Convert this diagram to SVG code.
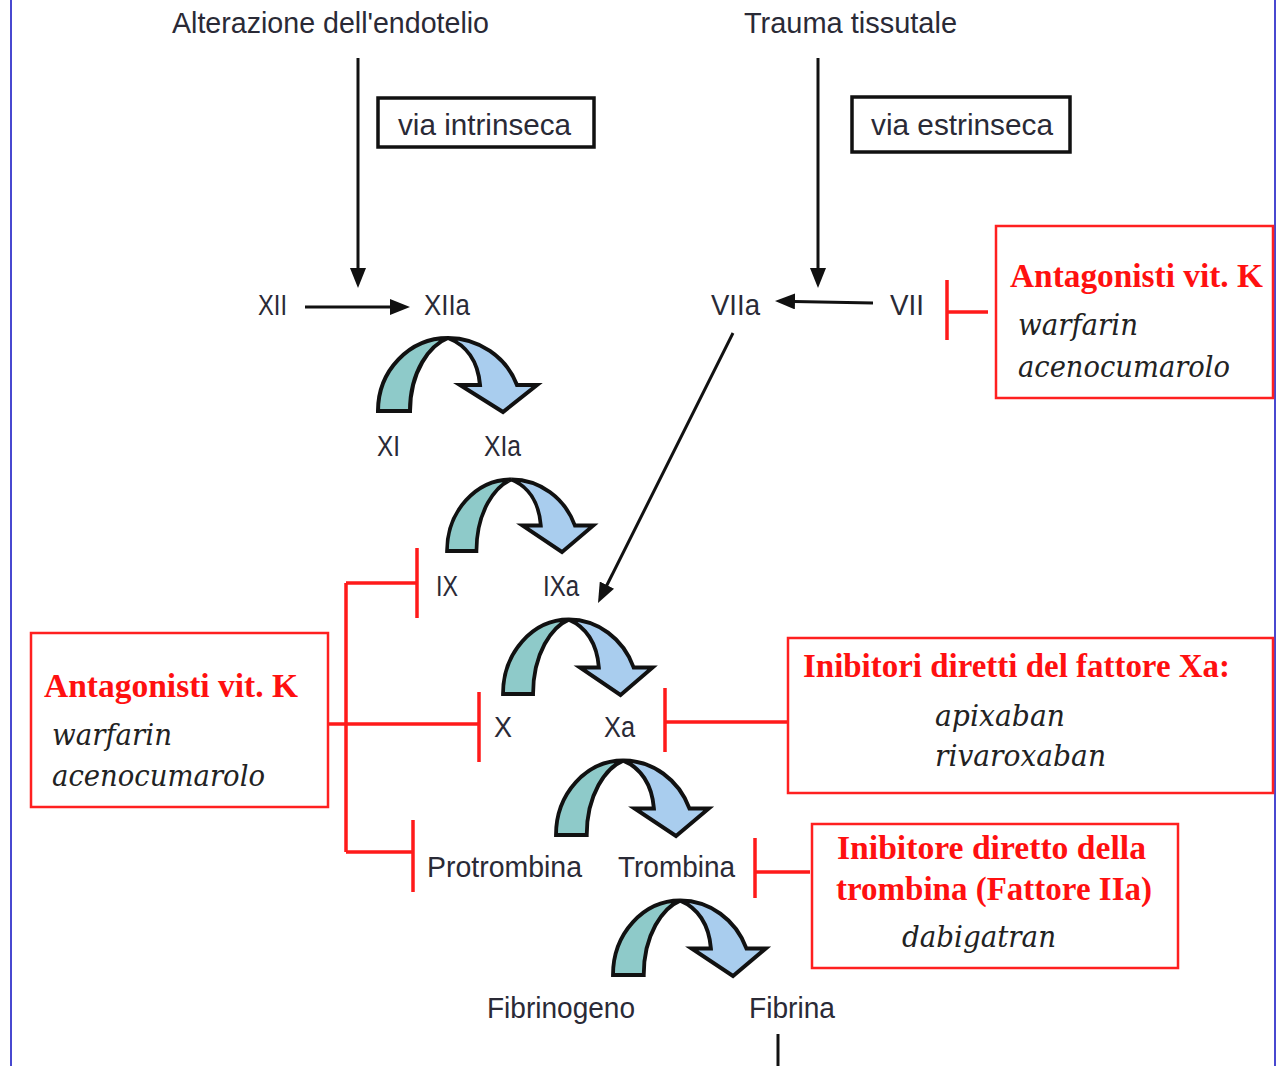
<svg xmlns="http://www.w3.org/2000/svg" width="1276" height="1066" viewBox="0 0 1276 1066">
<style>
.lbl{font-family:"Liberation Sans",Arial,sans-serif;font-size:30px;fill:#2a2a36}
.ttl{font-family:"Liberation Serif","Times New Roman",serif;font-size:33px;font-weight:bold;fill:#ff1010}
.drug{font-family:"DejaVu Serif",serif;font-style:italic;font-size:30px;fill:#222}
.rbox{fill:#fff;stroke:#ff2020;stroke-width:2.5}
.bbox{fill:#fff;stroke:#111;stroke-width:3.5}
.red{stroke:#ff1a1a;stroke-width:3.5;fill:none}
.blk{stroke:#111;stroke-width:3;fill:none}
.cl{fill:#8ecac9;stroke:#111;stroke-width:4;stroke-linejoin:miter}
.cr{fill:#a9cdee;stroke:#111;stroke-width:4;stroke-linejoin:miter}
</style>
<defs>
<marker id="ah" viewBox="0 0 20 16" markerWidth="20" markerHeight="16" refX="1" refY="8" orient="auto" markerUnits="userSpaceOnUse">
<path d="M0,0 L20,8 L0,16 Z" fill="#111"/>
</marker>
<g id="curv">
<path class="cl" d="M0,0 A70,73 0 0 1 70,-73 C52,-66 32,-40 32,0 Z"/>
<path class="cr" d="M70,-73 A74,73 0 0 1 139,-26 L159,-26 L125,1 L82,-26 L102,-26 C100,-50 88,-66 70,-73 Z"/>
</g>
</defs>
<rect width="1276" height="1066" fill="#fff"/>
<g id="frame">
<line x1="11" y1="0" x2="11" y2="1066" stroke="#4848d0" stroke-width="2"/>
<line x1="1275" y1="0" x2="1275" y2="1066" stroke="#4848d0" stroke-width="2"/>
</g>

<g id="connectors">
<line class="blk" x1="358" y1="58" x2="358" y2="269" marker-end="url(#ah)"/>
<line class="blk" x1="818" y1="58" x2="818" y2="269" marker-end="url(#ah)"/>
<line class="blk" x1="305" y1="307" x2="391" y2="307" marker-end="url(#ah)"/>
<line class="blk" x1="873" y1="303" x2="794" y2="301.4" marker-end="url(#ah)"/>
<line class="blk" x1="733" y1="333" x2="606.5" y2="586" marker-end="url(#ah)"/>
<line class="blk" x1="778" y1="1034" x2="778" y2="1066"/>
<path class="red" d="M947,280 V340 M947,312 H988"/>
<path class="red" d="M346,583 V852 M346,583 H417 M417,548 V618 M328,724 H479 M479,692 V762 M346,852 H413 M413,820 V892"/>
<path class="red" d="M665,688 V752 M665,722 H787"/>
<path class="red" d="M755,838 V898 M755,872 H810"/>
<use href="#curv" transform="translate(378,411)"/>
<use href="#curv" transform="translate(447,551) scale(0.92,0.98)"/>
<use href="#curv" transform="translate(503,694) scale(0.94,1.02)"/>
<use href="#curv" transform="translate(556,835) scale(0.96,1.02)"/>
<use href="#curv" transform="translate(613,975) scale(0.96,1.02)"/>
</g>

<g id="alterazione"><text class="lbl" x="172" y="33" textLength="317" lengthAdjust="spacingAndGlyphs">Alterazione dell'endotelio</text></g>
<g id="trauma"><text class="lbl" x="744" y="33" textLength="213" lengthAdjust="spacingAndGlyphs">Trauma tissutale</text></g>
<g id="via-intrinseca"><rect class="bbox" x="378" y="98" width="216" height="49"/><text class="lbl" x="398" y="135" textLength="173" lengthAdjust="spacingAndGlyphs">via  intrinseca</text></g>
<g id="via-estrinseca"><rect class="bbox" x="852" y="97" width="218" height="55"/><text class="lbl" x="871" y="135" textLength="182" lengthAdjust="spacingAndGlyphs">via  estrinseca</text></g>

<g id="XII"><text class="lbl" x="258" y="315" textLength="29" lengthAdjust="spacingAndGlyphs">XII</text></g>
<g id="XIIa"><text class="lbl" x="424" y="315" textLength="46" lengthAdjust="spacingAndGlyphs">XIIa</text></g>
<g id="VIIa"><text class="lbl" x="711" y="315" textLength="49" lengthAdjust="spacingAndGlyphs">VIIa</text></g>
<g id="VII"><text class="lbl" x="890" y="315" textLength="34" lengthAdjust="spacingAndGlyphs">VII</text></g>
<g id="XI"><text class="lbl" x="377" y="456" textLength="23" lengthAdjust="spacingAndGlyphs">XI</text></g>
<g id="XIa"><text class="lbl" x="484" y="456" textLength="37" lengthAdjust="spacingAndGlyphs">XIa</text></g>
<g id="IX"><text class="lbl" x="436" y="596" textLength="22" lengthAdjust="spacingAndGlyphs">IX</text></g>
<g id="IXa"><text class="lbl" x="543" y="596" textLength="36" lengthAdjust="spacingAndGlyphs">IXa</text></g>
<g id="X"><text class="lbl" x="494" y="737" textLength="18" lengthAdjust="spacingAndGlyphs">X</text></g>
<g id="Xa"><text class="lbl" x="604" y="737" textLength="31" lengthAdjust="spacingAndGlyphs">Xa</text></g>
<g id="Protrombina"><text class="lbl" x="427" y="877" textLength="155" lengthAdjust="spacingAndGlyphs">Protrombina</text></g>
<g id="Trombina"><text class="lbl" x="618" y="877" textLength="117" lengthAdjust="spacingAndGlyphs">Trombina</text></g>
<g id="Fibrinogeno"><text class="lbl" x="487" y="1018" textLength="148" lengthAdjust="spacingAndGlyphs">Fibrinogeno</text></g>
<g id="Fibrina"><text class="lbl" x="749" y="1018" textLength="86" lengthAdjust="spacingAndGlyphs">Fibrina</text></g>

<g id="box-avk-right">
<rect class="rbox" x="996" y="226" width="277" height="172"/>
<text class="ttl" x="1010" y="287" textLength="253" lengthAdjust="spacingAndGlyphs">Antagonisti vit. K</text>
<text class="drug" x="1018" y="335" textLength="120" lengthAdjust="spacingAndGlyphs">warfarin</text>
<text class="drug" x="1018" y="377" textLength="212" lengthAdjust="spacingAndGlyphs">acenocumarolo</text>
</g>
<g id="box-avk-left">
<rect class="rbox" x="31" y="633" width="297" height="174"/>
<text class="ttl" x="44" y="697" textLength="254" lengthAdjust="spacingAndGlyphs">Antagonisti vit. K</text>
<text class="drug" x="52" y="745" textLength="120" lengthAdjust="spacingAndGlyphs">warfarin</text>
<text class="drug" x="52" y="786" textLength="213" lengthAdjust="spacingAndGlyphs">acenocumarolo</text>
</g>
<g id="box-xa">
<rect class="rbox" x="788" y="638" width="485" height="155"/>
<text class="ttl" x="803" y="677" textLength="427" lengthAdjust="spacingAndGlyphs">Inibitori diretti del fattore Xa:</text>
<text class="drug" x="935" y="726" textLength="130" lengthAdjust="spacingAndGlyphs">apixaban</text>
<text class="drug" x="935" y="766" textLength="171" lengthAdjust="spacingAndGlyphs">rivaroxaban</text>
</g>
<g id="box-trombina">
<rect class="rbox" x="812" y="824" width="366" height="144"/>
<text class="ttl" x="837" y="859" textLength="309" lengthAdjust="spacingAndGlyphs">Inibitore diretto della</text>
<text class="ttl" x="836" y="900" textLength="316" lengthAdjust="spacingAndGlyphs">trombina (Fattore IIa)</text>
<text class="drug" x="902" y="947" textLength="154" lengthAdjust="spacingAndGlyphs">dabigatran</text>
</g>
</svg>
